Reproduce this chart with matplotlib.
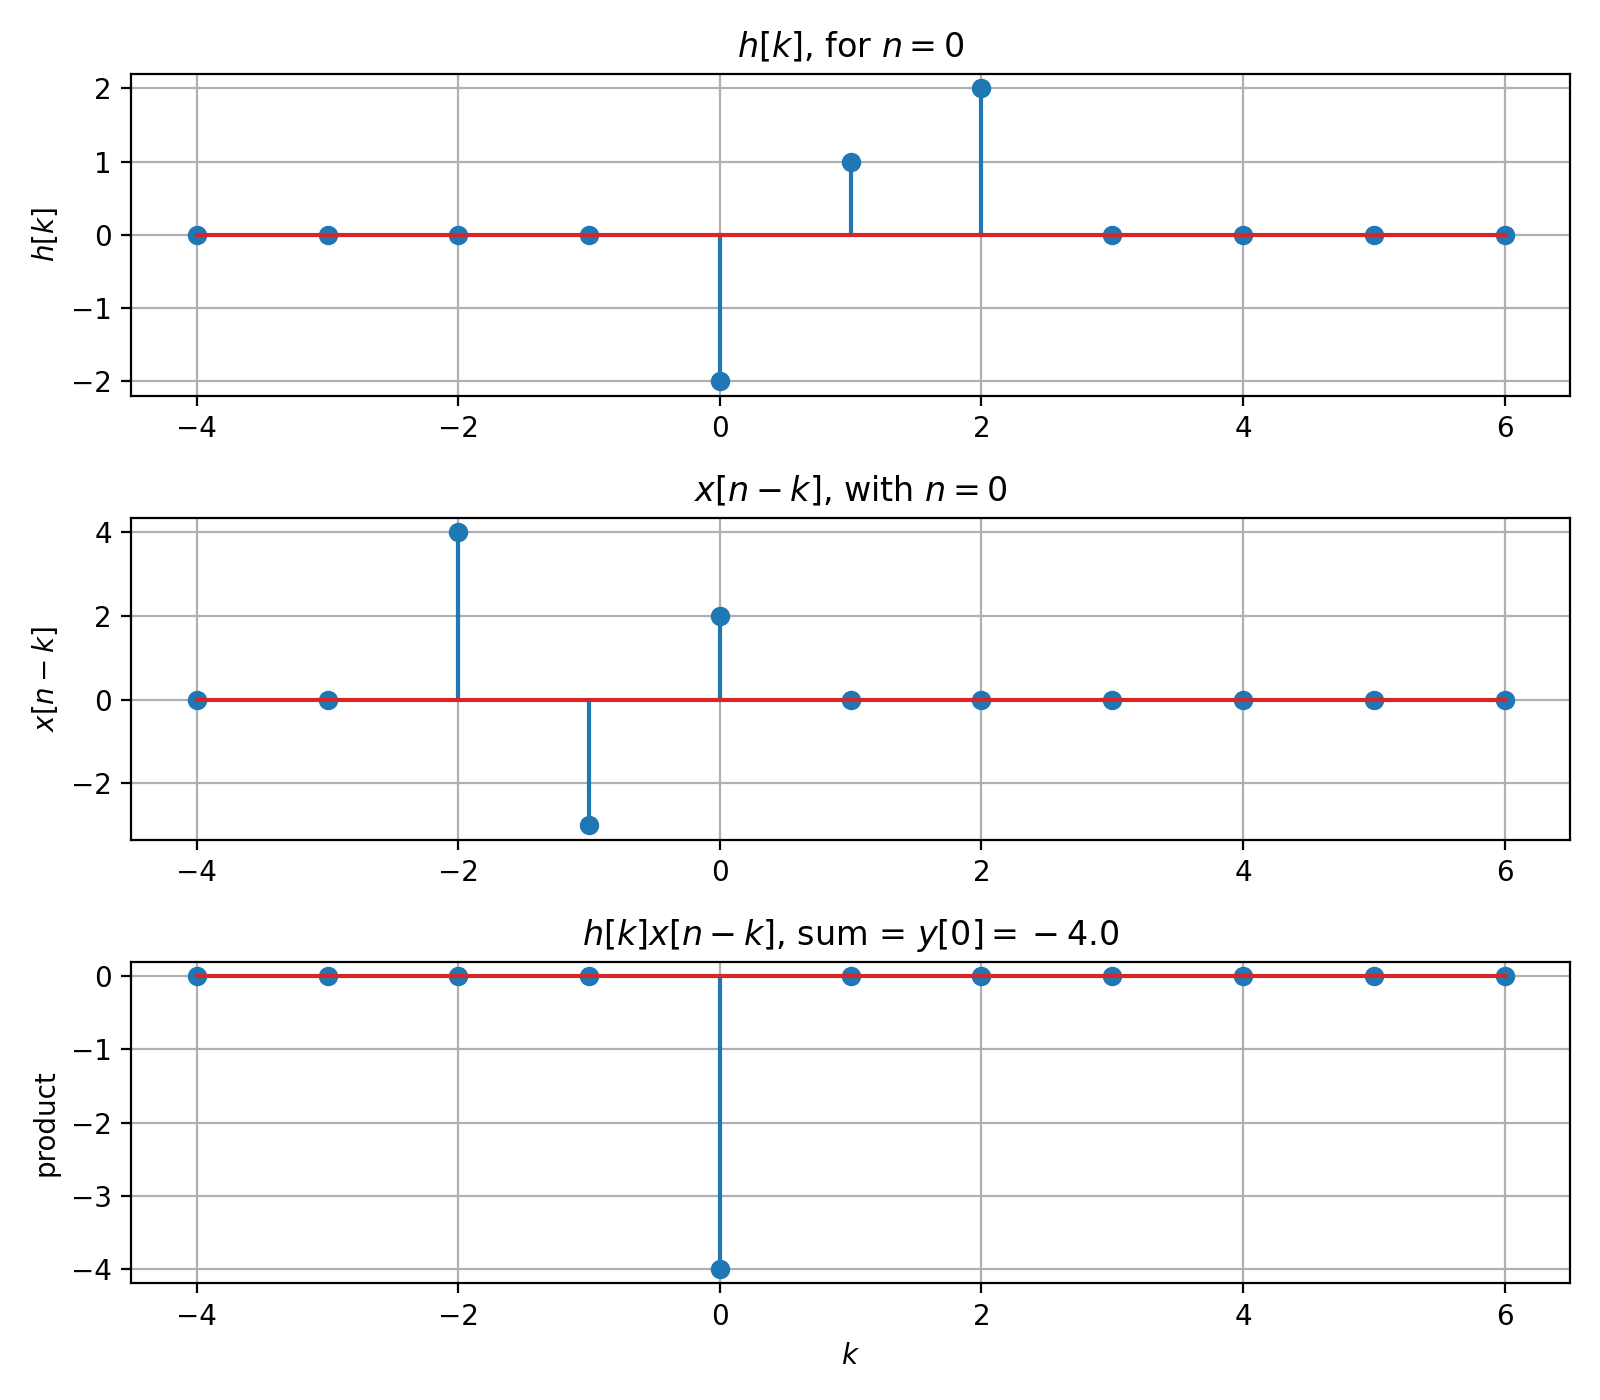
import numpy as np
import matplotlib
matplotlib.use("Agg")
import matplotlib.pyplot as plt

# data
k = [-4, -3, -2, -1, 0, 1, 2, 3, 4, 5, 6]
h = [0, 0, 0, 0, -2, 1, 2, 0, 0, 0, 0]
x_shift = [0, 0, 4, -3, 2, 0, 0, 0, 0, 0, 0]
n = 0

prod = np.array(h) * np.array(x_shift)
total = prod.sum()

fig, axes = plt.subplots(3, 1, figsize=(8, 7), dpi=200)

axes[0].stem(k, h)
axes[0].set_ylabel('$h[k]$')
axes[0].set_title('$h[k]$, for $n=%d$' % n)
axes[0].grid(True)

axes[1].stem(k, x_shift)
axes[1].set_ylabel('$x[n-k]$')
axes[1].set_title('$x[n-k]$, with $n=%d$' % n)
axes[1].grid(True)

axes[2].stem(k, prod)
axes[2].set_ylabel('product')
axes[2].set_xlabel('$k$')
# old mathtext put binary spacing round the minus sign
val = str(float(total)).replace('-', '{}-')
axes[2].set_title('$h[k]x[n-k]$, sum = $y[%d] = %s$' % (n, val))
axes[2].grid(True)

plt.tight_layout()
plt.savefig("out.png")
